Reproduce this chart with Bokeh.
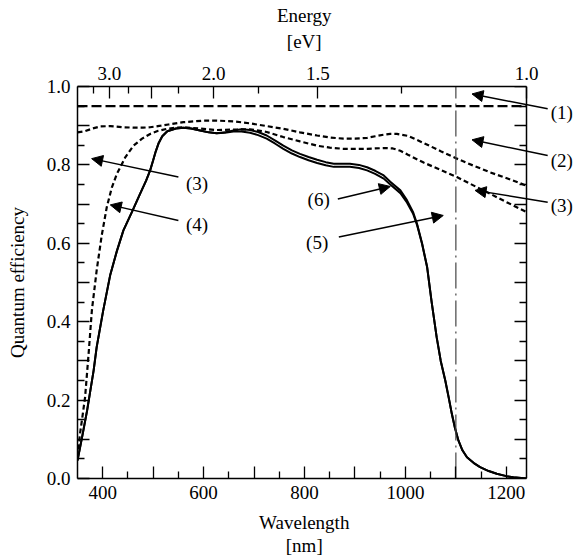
import math
from bokeh.plotting import figure
from bokeh.models import (Range1d, LinearAxis, FixedTicker, CustomJSTickFormatter,
                          Label, Arrow, NormalHead)
from bokeh.embed import file_html
from bokeh.resources import INLINE

FONT = "Liberation Serif"
FS = "19px"
HC = 1240.0  # eV*nm

# ---------------- data ----------------
WL_START, WL_END = 350, 1240

# (1) reference level
WL_1 = [350, 1240]
QE_1 = [0.95, 0.95]

# upper dashed curve (2)
WL_2 = [350, 365, 380, 395, 415, 440, 461, 480, 494, 515, 530, 560, 600, 626, 660, 692,
        725, 758, 791, 825, 850, 877, 900, 924, 940, 957, 970, 983, 1005, 1036, 1070,
        1102, 1135, 1168, 1205, 1240]
QE_2 = [0.883, 0.886, 0.893, 0.898, 0.899, 0.896, 0.895, 0.895, 0.896, 0.900, 0.903,
        0.909, 0.913, 0.913, 0.911, 0.906, 0.899, 0.892, 0.883, 0.875, 0.870, 0.867,
        0.867, 0.869, 0.873, 0.877, 0.879, 0.879, 0.874, 0.856, 0.835, 0.816, 0.798,
        0.781, 0.764, 0.747]

# lower dashed curve (3)/(4)
WL_3 = [350, 355, 360, 365, 372, 378.5, 388, 398, 408, 418, 428, 445, 461, 478, 494, 510,
        527, 545, 560, 590, 626, 660, 692, 725, 758, 791, 825, 850, 877, 924, 957, 975,
        990, 1005, 1036, 1070, 1102, 1142, 1170, 1205, 1240]
QE_3 = [0.054, 0.114, 0.160, 0.207, 0.318, 0.429, 0.531, 0.620, 0.692, 0.742, 0.777,
        0.820, 0.849, 0.867, 0.879, 0.887, 0.892, 0.895, 0.896, 0.893, 0.889, 0.890,
        0.891, 0.884, 0.871, 0.860, 0.849, 0.844, 0.841, 0.841, 0.843, 0.842, 0.836,
        0.826, 0.806, 0.787, 0.769, 0.743, 0.725, 0.702, 0.680]

# solid curves (upper line (6) and lower line of the pair)
WL_S = [350, 359, 369, 382, 388, 401, 415, 428, 441, 458, 474, 486, 494, 500, 505, 511,
        518, 528, 545, 560, 575, 593, 610, 626, 642, 659, 675, 692, 708, 725, 742, 758,
        775, 791, 808, 825, 842, 858, 875, 890, 908, 924, 940, 957, 970, 990, 1003, 1015,
        1023, 1033, 1043, 1052, 1062, 1070, 1079, 1086, 1092, 1098, 1105, 1113, 1122,
        1135, 1148, 1165, 1181, 1200, 1214, 1240]
QE_6 = [0.046, 0.105, 0.173, 0.276, 0.335, 0.429, 0.520, 0.580, 0.633, 0.680, 0.726,
        0.760, 0.786, 0.812, 0.834, 0.856, 0.873, 0.886, 0.893, 0.895, 0.893, 0.888,
        0.883, 0.881, 0.883, 0.888, 0.891, 0.889, 0.884, 0.875, 0.862, 0.849, 0.837,
        0.828, 0.820, 0.813, 0.807, 0.803, 0.803, 0.803, 0.800, 0.794, 0.785, 0.773,
        0.757, 0.735, 0.710, 0.680, 0.650, 0.600, 0.540, 0.450, 0.360, 0.300, 0.250,
        0.205, 0.165, 0.130, 0.097, 0.072, 0.054, 0.040, 0.029, 0.019, 0.012, 0.006,
        0.003, 0.000]
QE_5 = [0.046, 0.105, 0.173, 0.276, 0.335, 0.429, 0.520, 0.580, 0.633, 0.680, 0.726,
        0.760, 0.786, 0.812, 0.834, 0.856, 0.873, 0.886, 0.893, 0.895, 0.893, 0.888,
        0.883, 0.881, 0.882, 0.885, 0.885, 0.882, 0.876, 0.867, 0.854, 0.841, 0.829,
        0.820, 0.812, 0.805, 0.799, 0.795, 0.795, 0.795, 0.792, 0.786, 0.777, 0.765,
        0.750, 0.728, 0.704, 0.676, 0.647, 0.598, 0.539, 0.450, 0.360, 0.300, 0.250,
        0.205, 0.165, 0.130, 0.097, 0.072, 0.054, 0.040, 0.029, 0.019, 0.012, 0.006,
        0.003, 0.000]

CUTOFF_WL = 1100

# axis ticks
WL_MAJOR = [400, 500, 600, 700, 800, 900, 1000, 1100, 1200]
WL_MINOR = [450, 550, 650, 750, 850, 950, 1050, 1150]
QE_MAJOR = [0.0, 0.1, 0.2, 0.3, 0.4, 0.5, 0.6, 0.7, 0.8, 0.9, 1.0]
QE_MINOR = [0.05, 0.15, 0.25, 0.35, 0.45, 0.55, 0.65, 0.75, 0.85, 0.95]
E_MAJOR = [3.0, 2.5, 2.0, 1.5, 1.0]
E_MINOR = [3.25, 2.75, 2.25, 1.75, 1.25]

# annotation labels: text, label position, arrow start, arrow end
ANNOT = [
    ("(1)", (1310, 0.934), (1282, 0.943), (1132, 0.981)),
    ("(2)", (1310, 0.811), (1282, 0.824), (1132, 0.864)),
    ("(3)", (1310, 0.696), (1282, 0.705), (1138, 0.735)),
    ("(6)", (828, 0.713), (866, 0.713), (970, 0.745)),
    ("(5)", (825, 0.603), (868, 0.616), (1075, 0.671)),
    ("(3)", (587, 0.752), (550, 0.769), (378, 0.816)),
    ("(4)", (587, 0.648), (550, 0.658), (415, 0.698)),
]

# ---------------- figure ----------------
FRAME_W = 501
X_END = WL_START + FRAME_W * (WL_END - WL_START) / 449.0   # extra room right for labels

p = figure(frame_width=FRAME_W, frame_height=392,
           min_border_left=77, min_border_right=0, min_border_top=86, min_border_bottom=79,
           x_range=Range1d(WL_START, X_END), y_range=Range1d(0, 1.0),
           output_backend="svg", toolbar_location=None,
           background_fill_color="white", border_fill_color="white")
p.grid.visible = False
p.outline_line_color = None

# titles are centred on the whole (wider) frame; trailing no-break spaces
# shift them back over the centre of the data box
PAD = "\u00a0" * 10


def style_axis(ax):
    ax.axis_line_width = 1.5
    ax.axis_line_color = "black"
    ax.major_tick_in = 12
    ax.major_tick_out = 0
    ax.minor_tick_in = 7
    ax.minor_tick_out = 0
    ax.major_tick_line_width = 1.3
    ax.minor_tick_line_width = 1.3
    ax.major_tick_line_color = "black"
    ax.minor_tick_line_color = "black"
    ax.major_label_text_font = FONT
    ax.major_label_text_font_size = FS
    ax.major_label_text_color = "black"
    ax.major_label_standoff = 7
    ax.axis_label_text_font = FONT
    ax.axis_label_text_font_size = FS
    ax.axis_label_text_font_style = "normal"
    ax.axis_label_text_color = "black"


bx = p.xaxis[0]
bx.ticker = FixedTicker(ticks=WL_MAJOR, minor_ticks=WL_MINOR)
bx.formatter = CustomJSTickFormatter(
    code="return (Math.round(tick) % 200 == 0) ? tick.toFixed(0) : '';")
bx.bounds = (WL_START, WL_END)
style_axis(bx)
bx.axis_label = "Wavelength" + PAD + "\n[nm]" + PAD
bx.axis_label_standoff = 10
bx.axis_label_text_line_height = 1.1

ly = p.yaxis[0]
ly.ticker = FixedTicker(ticks=QE_MAJOR, minor_ticks=QE_MINOR)
ly.formatter = CustomJSTickFormatter(
    code="const k = Math.round(tick*10); return (k % 2 == 0) ? tick.toFixed(1) : '';")
style_axis(ly)
ly.axis_label = "Quantum efficiency"
ly.axis_label_standoff = 16

top = LinearAxis(ticker=FixedTicker(ticks=[HC / e for e in E_MAJOR],
                                    minor_ticks=[HC / e for e in E_MINOR]),
                 formatter=CustomJSTickFormatter(
                     code=f"const e = {HC}/tick; if (Math.abs(e-2.5) < 0.01) return ''; return e.toFixed(1);"),
                 bounds=(WL_START, WL_END))
style_axis(top)
top.axis_label = "Energy" + PAD + "\n[eV]" + PAD
top.axis_label_standoff = 12
p.add_layout(top, "above")

ry = LinearAxis(ticker=FixedTicker(ticks=QE_MAJOR, minor_ticks=QE_MINOR),
                formatter=CustomJSTickFormatter(code="return '';"),
                fixed_location=WL_END, bounds=(0, 1.0))
style_axis(ry)
p.add_layout(ry, "right")

# curves
p.line(WL_1, QE_1, line_color="black", line_width=2.2, line_dash="10 4")
p.line(WL_2, QE_2, line_color="black", line_width=2.2, line_dash="5 3")
p.line(WL_3, QE_3, line_color="black", line_width=2.2, line_dash="5 3")
p.line(WL_S, QE_6, line_color="black", line_width=2.0)
p.line(WL_S, QE_5, line_color="black", line_width=2.0)
p.line([CUTOFF_WL, CUTOFF_WL], [0, 1.0], line_color="#444444", line_width=1.2,
       line_dash="26 5 2 5")

# annotations
for text, (tx, ty), (sx, sy), (ex, ey) in ANNOT:
    p.add_layout(Arrow(end=NormalHead(size=11, fill_color="black", line_color="black"),
                       x_start=sx, y_start=sy, x_end=ex, y_end=ey,
                       line_color="black", line_width=1.5))
    p.add_layout(Label(x=tx, y=ty, text=text, text_font=FONT, text_font_size=FS,
                       text_align="center", text_baseline="middle", text_color="black"))

open("out.html", "w").write(file_html(p, INLINE))
